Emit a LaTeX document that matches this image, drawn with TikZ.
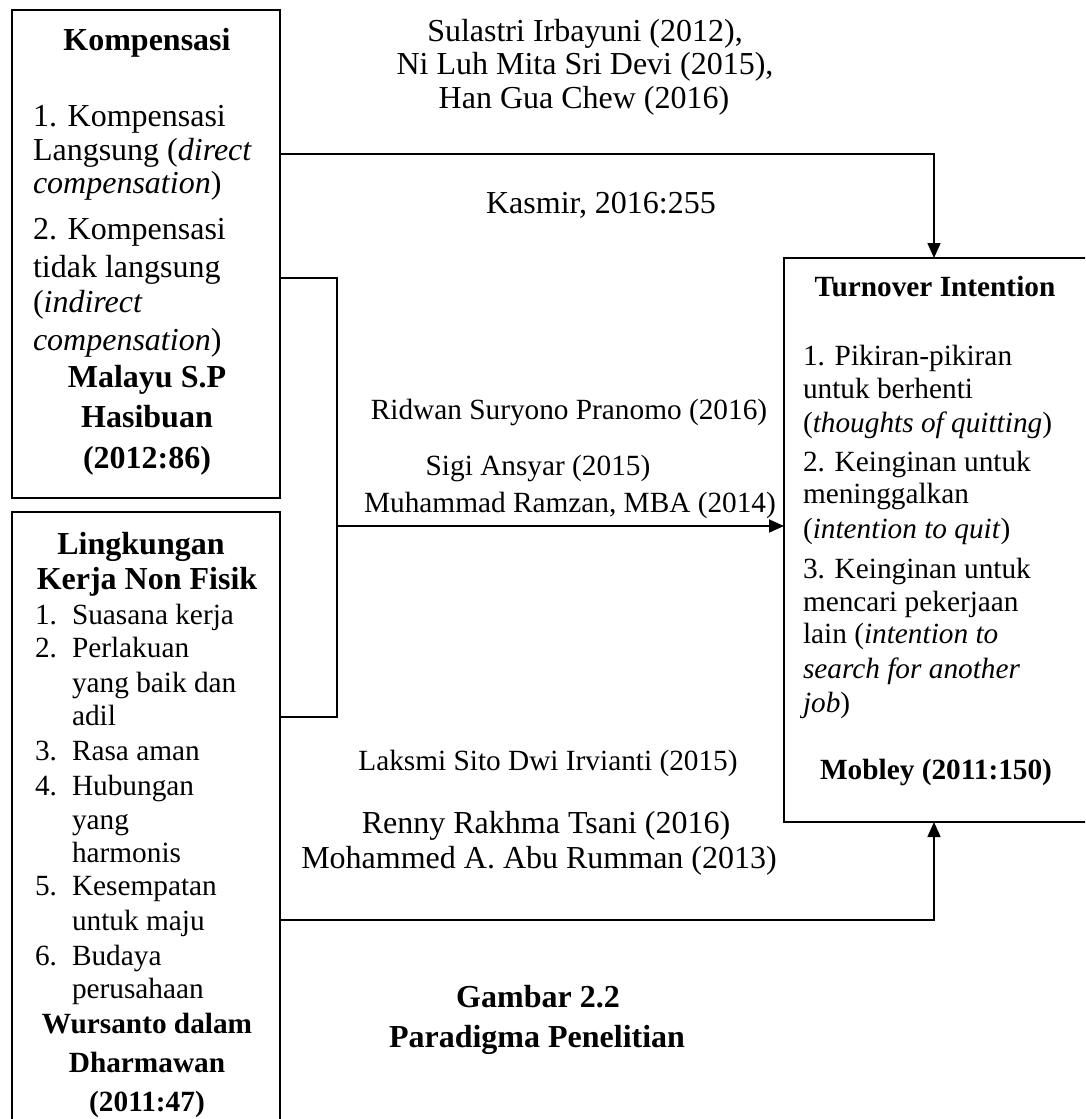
\documentclass[tikz,border=0pt]{standalone}
\usepackage{fontspec}
\setmainfont{Liberation Serif}
\usetikzlibrary{arrows.meta}
\begin{document}
\begin{tikzpicture}[x=1pt,y=-1pt,
  every node/.style={inner sep=0pt, outer sep=0pt},
  big/.style={font=\fontsize{32}{36}\selectfont},
  sml/.style={font=\fontsize{29.3}{33}\selectfont},
  bigb/.style={font=\fontsize{32}{36}\selectfont\bfseries},
  smlb/.style={font=\fontsize{29.3}{33}\selectfont\bfseries},
  box/.style={draw, line width=1.7pt, anchor=north west},
  conn/.style={line width=1.7pt},
  arr/.style={conn, -{Triangle[length=15pt,width=13pt]}},
]
\useasboundingbox (0,0) rectangle (1085,1119);
\clip (0,0) rectangle (1085,1119);
\fill[white] (0,0) rectangle (1085,1119);

% boxes
\node[box, minimum width=268pt, minimum height=488pt] (komp) at (12,10) {};
\node[box, minimum width=268pt, minimum height=640pt] (lnf) at (12,512) {};
\node[box, minimum width=304pt, minimum height=564pt] (ti) at (784,258) {};

% helper coordinates
\coordinate (ya) at (0,154);
\coordinate (xa) at (934,0);
\coordinate (yb) at (0,278);
\coordinate (yc) at (0,717);
\coordinate (bx) at (337,0);
\coordinate (j) at (337,526);
\coordinate (yd) at (0,920);

% connectors
\draw[arr] (komp.east |- ya) -| (xa |- ti.north);
\draw[conn] (komp.east |- yb) -| (bx |- yc) -- (lnf.east |- yc);
\draw[arr] (j) -- (ti.west |- j);
\draw[arr] (lnf.east |- yd) -| (xa |- ti.south);

% Kompensasi box text
\node[bigb, anchor=base] (k0) at (147,50) {Kompensasi};
\foreach \y/\t [count=\i] in {126/{1. Kompensasi}, 160/{Langsung (\textit{direct}}, 193/{\textit{compensation})}, 239/{2. Kompensasi}, 277/{tidak langsung}, 312/{(\textit{indirect}}, 350/{\textit{compensation})}}
  \node[big, anchor=base west, name=k\i] at (33,\y) {\t};
\foreach \y/\t [count=\i] in {387/{Malayu S.P}, 427/{Hasibuan}, 468/{(2012:86)}}
  \node[bigb, anchor=base, name=kf\i] at (147,\y) {\t};

% Lingkungan box text
\node[bigb, anchor=base] (l0) at (141,554) {Lingkungan};
\node[bigb, anchor=base] (l00) at (147,589) {Kerja Non Fisik};
\foreach \y/\n/\t [count=\i] in {624/1./{Suasana kerja}, 657/2./{Perlakuan}, 692//{yang baik dan}, 725//{adil}, 760/3./{Rasa aman}, 795/4./{Hubungan}, 829//{yang}, 862//{harmonis}, 895/5./{Kesempatan}, 930//{untuk maju}, 965/6./{Budaya}, 998//{perusahaan}}
  {\node[sml, anchor=base west, name=ln\i] at (35,\y) {\n};
   \node[sml, anchor=base west, name=lt\i] at (72,\y) {\t};}
\foreach \y/\t [count=\i] in {1033/{Wursanto dalam}, 1072/{Dharmawan}, 1111/{(2011:47)}}
  \node[smlb, anchor=base, name=lf\i] at (147,\y) {\t};

% Turnover box text
\node[smlb, anchor=base] (t0) at (935,296) {Turnover Intention};
\foreach \y/\t [count=\i] in {365/{1. Pikiran-pikiran}, 398/{untuk berhenti}, 432/{(\textit{thoughts of quitting})}, 471/{2. Keinginan untuk}, 503/{meninggalkan}, 538/{(\textit{intention to quit})}, 578/{3. Keinginan untuk}, 611/{mencari pekerjaan}, 643/{lain (\textit{intention to}}, 678/{\textit{search for another}}, 712/{\textit{job})}}
  \node[sml, anchor=base west, name=t\i] at (803,\y) {\t};
\node[smlb, anchor=base] (tf) at (936,779) {Mobley (2011:150)};

% middle labels
\node[big, anchor=base] (m1) at (585,41) {Sulastri Irbayuni (2012),};
\node[big, anchor=base] (m2) at (585,74) {Ni Luh Mita Sri Devi (2015),};
\node[big, anchor=base] (m3) at (584,108) {Han Gua Chew (2016)};
\node[big, anchor=base] (m4) at (601,213) {Kasmir, 2016:255};
\node[sml, anchor=base] (m5) at (569,419) {Ridwan Suryono Pranomo (2016)};
\node[sml, anchor=base] (m6) at (538,475) {Sigi Ansyar (2015)};
\node[sml, anchor=base] (m7) at (570,512) {Muhammad Ramzan, MBA (2014)};
\node[sml, anchor=base] (m8) at (548,770) {Laksmi Sito Dwi Irvianti (2015)};
\node[big, anchor=base] (m9) at (546,833) {Renny Rakhma Tsani (2016)};
\node[big, anchor=base] (m10) at (539,868) {Mohammed A. Abu Rumman (2013)};
\node[bigb, anchor=base] (g1) at (538,1007) {Gambar 2.2};
\node[bigb, anchor=base] (g2) at (537,1047) {Paradigma Penelitian};
\end{tikzpicture}
\end{document}
